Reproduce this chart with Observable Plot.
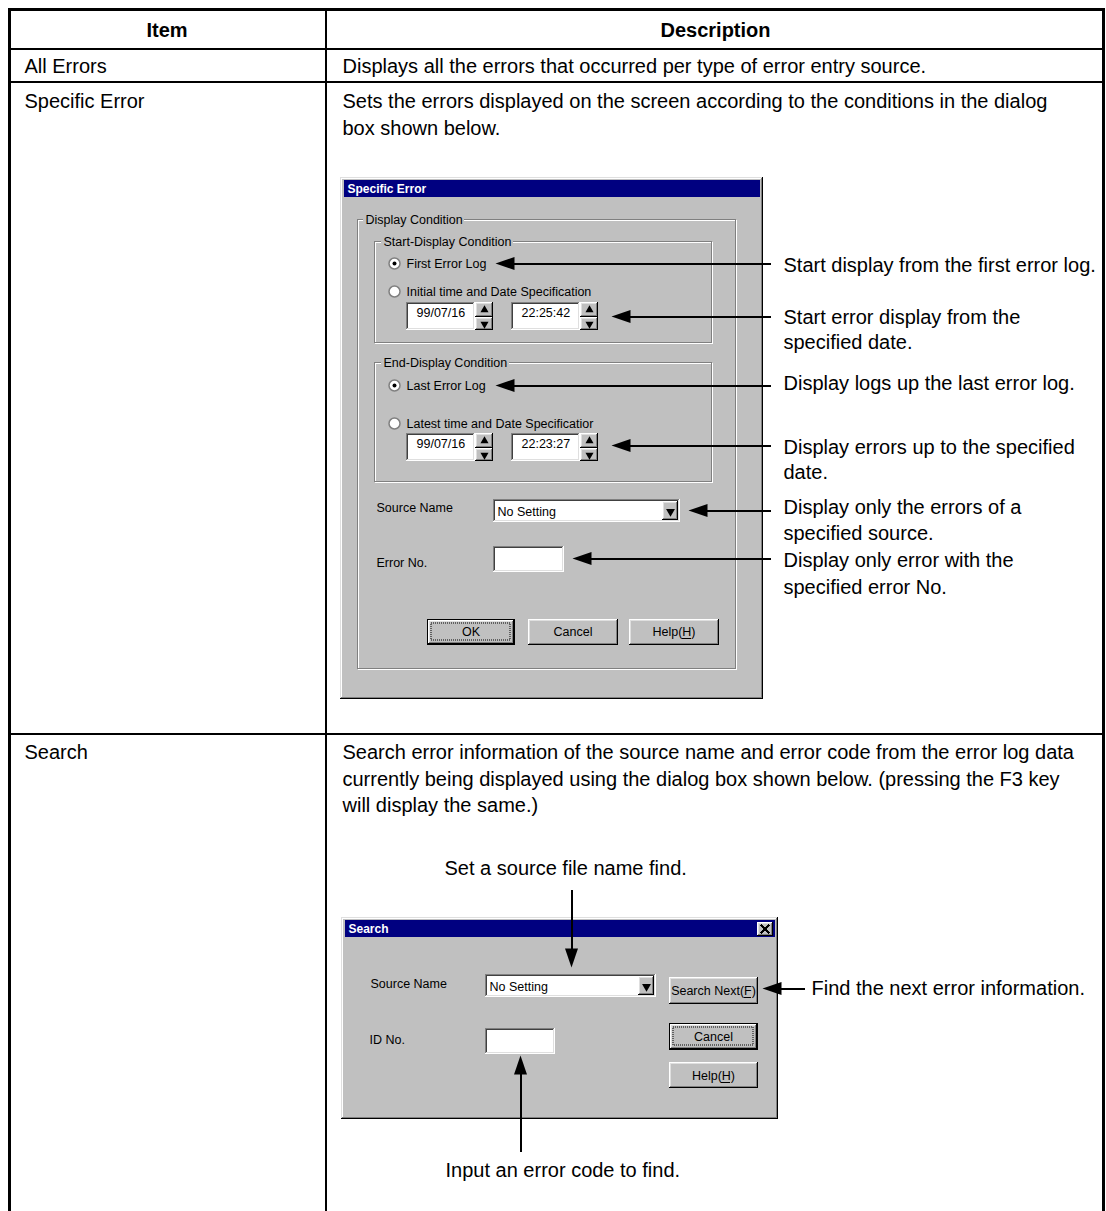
<!DOCTYPE html>
<html><head><meta charset="utf-8">
<script src="https://cdn.jsdelivr.net/npm/d3@7"></script>
<script src="https://cdn.jsdelivr.net/npm/@observablehq/plot@0.6"></script>
<style>body{margin:0;background:#fff}</style>
</head><body><div id="chart"></div>
<script>
// ---------------- DATA (texts of the table) ----------------
const headerLabels = ["Item", "Description"];
const itemNames = ["All Errors", "Specific Error", "Search"];
const itemDescriptions = [
  ["Displays all the errors that occurred per type of error entry source."],
  ["Sets the errors displayed on the screen according to the conditions in the dialog", "box shown below."],
  ["Search error information of the source name and error code from the error log data",
   "currently being displayed using the dialog box shown below. (pressing the F3 key",
   "will display the same.)"]
];
const specificTitle = "Specific Error";
const specificGroups = ["Display Condition", "Start-Display Condition", "End-Display Condition"];
const specificRadios = ["First Error Log", "Initial time and Date Specification", "Last Error Log", "Latest time and Date Specificatior"];
const radioChecked = [true, false, true, false];
const dateValues = ["99/07/16", "99/07/16"];
const timeValues = ["22:25:42", "22:23:27"];
const specificFieldLabels = ["Source Name", "Error No."];
const comboValue = "No Setting";
const specificButtons = ["OK", "Cancel", "Help(H)"];
const specificNotes = [
  ["Start display from the first error log."],
  ["Start error display from the", "specified date."],
  ["Display logs up the last error log."],
  ["Display errors up to the specified", "date."],
  ["Display only the errors of a", "specified source."],
  ["Display only error with the", "specified error No."]
];
const searchTitle = "Search";
const searchFieldLabels = ["Source Name", "ID No."];
const searchButtons = ["Search Next(F)", "Cancel", "Help(H)"];
const searchNotes = ["Set a source file name find.", "Find the next error information.", "Input an error code to find."];

// ---------------- LAYOUT ----------------
const W = 1106, H = 1211;
const FONT = "Liberation Sans, Arial, Helvetica, sans-serif";
const MAIN = 20, UI = 12.5;
const measureCtx = document.createElement("canvas").getContext("2d");
function measure(t, size, weight = "normal") { measureCtx.font = `${weight} ${size}px "Liberation Sans", Arial`; return measureCtx.measureText(t).width; }

const fills = [], labelBgs = [], segs = [], heads = [], tris = [], radios = [], dotted = [], texts = [];
const fill = (x1, y1, x2, y2, f, arr = fills) => arr.push({x1, y1, x2, y2, f});
const hl = (x1, x2, y, c, w = 1) => segs.push({x1, y1: y, x2, y2: y, c, w});
const vl = (x, y1, y2, c, w = 1) => segs.push({x1: x, y1, x2: x, y2, c, w});
function box(x1, y1, x2, y2, tl, br) { hl(x1, x2, y1, tl); vl(x1, y1, y2, tl); hl(x1, x2, y2, br); vl(x2, y1, y2, br); }
function raised(x1, y1, x2, y2) { fill(x1, y1, x2, y2, "#c0c0c0"); box(x1, y1, x2, y2, "#ffffff", "#000000"); box(x1 + 1, y1 + 1, x2 - 1, y2 - 1, "#dfdfdf", "#808080"); }
function sunken(x1, y1, x2, y2) { fill(x1, y1, x2, y2, "#ffffff"); box(x1, y1, x2, y2, "#808080", "#ffffff"); box(x1 + 1, y1 + 1, x2 - 1, y2 - 1, "#404040", "#dfdfdf"); }
function defButton(x1, y1, x2, y2) { fill(x1, y1, x2, y2, "#c0c0c0"); box(x1, y1, x2, y2, "#000", "#000"); raised(x1 + 1, y1 + 1, x2 - 1, y2 - 1); dotted.push({x1: x1 + 4, y1: y1 + 4, x2: x2 - 4, y2: y2 - 4}); }
function txt(x, y, t, o = {}) { texts.push({x, y, t, size: o.size || MAIN, weight: o.weight || "normal", fill: o.fill || "#000", anchor: o.anchor || "start"}); }
function etched(x1, y1, x2, y2, label, lx, ly) {
  box(x1 + 1, y1 + 1, x2 + 1, y2 + 1, "#ffffff", "#ffffff");
  box(x1, y1, x2, y2, "#808080", "#808080");
  const w = measure(label, UI);
  fill(lx - 2, y1 - 2, lx + w + 2, y1 + 3, "#c0c0c0", labelBgs);
  txt(lx, ly, label, {size: UI});
}
function underlineChar(cx, y, full, prefix, ch, size) {
  const w = measure(full, size), p = measure(prefix, size), c = measure(ch, size);
  const s = cx - w / 2;
  hl(Math.round(s + p), Math.round(s + p + c) - 1, y, "#000");
}
function dialog(x1, y1, x2, y2, title) {
  fill(x1, y1, x2, y2, "#c0c0c0");
  box(x1, y1, x2, y2, "#dfdfdf", "#000000");
  box(x1 + 1, y1 + 1, x2 - 1, y2 - 1, "#ffffff", "#808080");
  fill(x1 + 4, y1 + 3, x2 - 2, y1 + 20, "#000080");
  txt(x1 + 7, y1 + 11.5, title, {size: 12, weight: "bold", fill: "#ffffff"});
}
function spin(x1, y1, x2, y2) {
  const m = Math.round((y1 + y2) / 2);
  raised(x1, y1, x2, m); raised(x1, m + 1, x2, y2);
  tris.push({x: (x1 + x2) / 2 + 0.5, y: (y1 + m) / 2 + 0.5, rot: 0, r: 1.8});
  tris.push({x: (x1 + x2) / 2 + 0.5, y: (m + y2) / 2 + 1, rot: 180, r: 1.8});
}
function combo(x1, y1, x2, y2, value) {
  sunken(x1, y1, x2, y2);
  raised(x2 - 17, y1 + 2, x2 - 2, y2 - 2);
  tris.push({x: x2 - 9, y: (y1 + y2) / 2 + 1, rot: 180, r: 2.2});
  txt(x1 + 4, (y1 + y2) / 2 + 1, value, {size: UI});
}

// table frame
const tb = {x1: 8, x2: 1105, top: 8, col: 325, head: 48, rows: [81, 733]};
fill(tb.x1, tb.top, tb.x2, tb.top + 3, "#000");
fill(tb.x1, tb.top, tb.x1 + 3, H, "#000");
fill(tb.x2 - 3, tb.top, tb.x2, H, "#000");
fill(tb.col, tb.top, tb.col + 2, H, "#000");
fill(tb.x1, tb.head, tb.x2, tb.head + 2, "#000");
tb.rows.forEach(r => fill(tb.x1, r, tb.x2, r + 2, "#000"));

txt((tb.x1 + tb.col) / 2, 30, headerLabels[0], {weight: "bold", anchor: "middle"});
txt((tb.col + tb.x2) / 2, 30, headerLabels[1], {weight: "bold", anchor: "middle"});
const rowTextY = [[66], [101, 128], [752, 779, 805]];
itemNames.forEach((n, i) => txt(24, rowTextY[i][0], n));
itemDescriptions.forEach((lines, i) => lines.forEach((l, j) => txt(342, rowTextY[i][j], l)));

// ---- Specific Error dialog ----
dialog(340, 177, 762, 698, specificTitle);
etched(357, 219, 735, 668, specificGroups[0], 365, 219);
etched(374, 241, 711, 342, specificGroups[1], 383, 241);
etched(374, 362, 711, 481, specificGroups[2], 383, 362);
const radioY = [263, 291, 385, 423];
specificRadios.forEach((r, i) => { radios.push({x: 394, y: radioY[i], checked: radioChecked[i]}); txt(406, radioY[i], r, {size: UI}); });
const dtY = [302, 433];
dtY.forEach((y, i) => {
  sunken(406, y, 474, y + 27); spin(475, y, 492, y + 27);
  sunken(511, y, 579, y + 27); spin(580, y, 597, y + 27);
  txt(416, y + 10, dateValues[i], {size: UI});
  txt(521, y + 10, timeValues[i], {size: UI});
});
txt(376, 507, specificFieldLabels[0], {size: UI});
combo(493, 499, 679, 521, comboValue);
txt(376, 562, specificFieldLabels[1], {size: UI});
sunken(493, 546, 563, 571);
const sbx = [[427, 514], [528, 617], [629, 718]];
sbx.forEach(([a, b], i) => {
  if (i === 0) defButton(a, 619, b, 644); else raised(a, 619, b, 644);
  txt((a + b) / 2, 631.5, specificButtons[i], {size: UI, anchor: "middle"});
});
underlineChar((629 + 718) / 2, 638, "Help(H)", "Help(", "H", UI);

// arrows for specific error
const arrowY = [263, 316, 385, 445, 510, 558];
const arrowTip = [495, 611, 495, 611, 688, 572];
arrowY.forEach((y, i) => { heads.push({x: arrowTip[i], y, rot: 0}); hl(arrowTip[i] + 12, 769, y, "#000", 2); });
const noteY = [[265], [317, 342], [383], [447, 472], [507, 533], [560, 587]];
specificNotes.forEach((lines, i) => lines.forEach((l, j) => txt(783, noteY[i][j], l)));

// ---- Search dialog ----
dialog(341, 917, 777, 1118, searchTitle);
raised(757, 922, 772, 935);
segs.push({x1: 761, y1: 925, x2: 768, y2: 932, c: "#000", w: 1.6});
segs.push({x1: 768, y1: 925, x2: 761, y2: 932, c: "#000", w: 1.6});
txt(370, 983, searchFieldLabels[0], {size: UI});
combo(485, 974, 655, 996, comboValue);
txt(369, 1039, searchFieldLabels[1], {size: UI});
sunken(485, 1028, 554, 1053);
raised(669, 977, 757, 1003);
txt(713, 990, searchButtons[0], {size: UI, anchor: "middle"});
underlineChar(713, 997, "Search Next(F)", "Search Next(", "F", UI);
defButton(669, 1023, 757, 1049);
txt(713, 1036, searchButtons[1], {size: UI, anchor: "middle"});
raised(669, 1062, 757, 1087);
txt(713, 1075, searchButtons[2], {size: UI, anchor: "middle"});
underlineChar(713, 1082, "Help(H)", "Help(", "H", UI);

// arrows for search
vl(571, 890, 955, "#000", 2); heads.push({x: 571, y: 967, rot: -90});
vl(520, 1066, 1150, "#000", 2); heads.push({x: 520, y: 1055, rot: 90});
hl(772, 803, 988, "#000", 2); heads.push({x: 762, y: 988, rot: 0});
txt(444, 868, searchNotes[0]);
txt(811, 988, searchNotes[1]);
txt(445, 1170, searchNotes[2]);

// arrowhead symbol: tip at origin, pointing left
const arrowHead = {draw(ctx) { ctx.moveTo(0, 0); ctx.lineTo(19, -6.5); ctx.lineTo(19, 6.5); ctx.closePath(); }};

const textMarks = [];
for (const weight of ["normal", "bold"]) for (const anchor of ["start", "middle"]) {
  const d = texts.filter(t => t.weight === weight && t.anchor === anchor);
  if (d.length) textMarks.push(Plot.text(d, {x: "x", y: "y", text: "t", fontSize: d => d.size, fill: d => d.fill,
    fontWeight: weight, textAnchor: anchor, lineAnchor: "middle", fontFamily: FONT}));
}

const chart = Plot.plot({
  width: W, height: H, margin: 0,
  x: {domain: [0, W], range: [0, W], axis: null},
  y: {domain: [0, H], range: [0, H], axis: null},
  color: {type: "identity"},
  style: {background: "#ffffff"},
  marks: [
    Plot.rect(fills, {x1: "x1", x2: "x2", y1: "y1", y2: "y2", fill: d => d.f, shapeRendering: "crispEdges"}),
    Plot.link(segs, {x1: "x1", y1: "y1", x2: "x2", y2: "y2", stroke: d => d.c, strokeWidth: d => d.w, strokeLinecap: "square", shapeRendering: "crispEdges"}),
    Plot.rect(labelBgs, {x1: "x1", x2: "x2", y1: "y1", y2: "y2", fill: d => d.f, shapeRendering: "crispEdges"}),
    Plot.rect(dotted, {x1: "x1", x2: "x2", y1: "y1", y2: "y2", fill: "none", stroke: "#000", strokeDasharray: "1,1", strokeWidth: 1}),
    Plot.dot(radios, {x: "x", y: "y", r: 5.5, fill: "#ffffff", stroke: "#808080", strokeWidth: 1.5}),
    Plot.dot(radios.filter(d => d.checked), {x: "x", y: "y", r: 2, fill: "#000", stroke: "none"}),
    Plot.dot(tris, {x: "x", y: "y", r: d => d.r, symbol: "triangle", rotate: d => d.rot, fill: "#000", stroke: "none"}),
    Plot.dot(heads, {x: "x", y: "y", r: 5, symbol: arrowHead, rotate: d => d.rot, fill: "#000", stroke: "none"}),
    ...textMarks
  ]
});
document.getElementById("chart").appendChild(chart);
</script>
</body></html>
